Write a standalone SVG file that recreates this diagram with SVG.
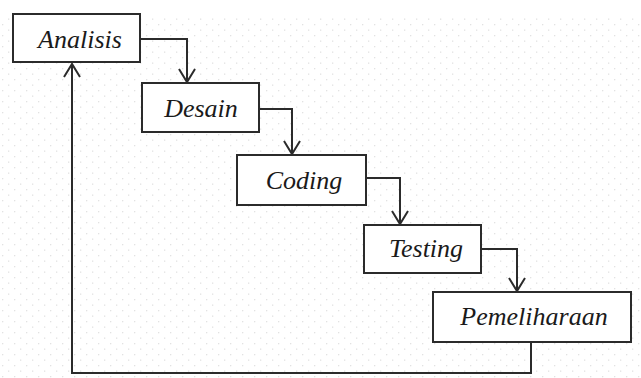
<svg xmlns="http://www.w3.org/2000/svg" width="641" height="378" viewBox="0 0 641 378">
<style>
.box{fill:#fff;stroke:#2b2b2b;stroke-width:2}
.lbl{font-family:"Liberation Serif","DejaVu Serif",serif;font-style:italic;font-size:26px;fill:#1a1a1a;text-anchor:middle}
.con{fill:none;stroke:#2b2b2b;stroke-width:2}
</style>
<defs>
<pattern id="dots" width="12" height="11" patternUnits="userSpaceOnUse">
<rect x="2" y="2" width="1.3" height="1.3" fill="#e2e2e2"/>
<rect x="8" y="7.5" width="1.3" height="1.3" fill="#e2e2e2"/>
</pattern>
</defs>
<rect width="641" height="378" fill="#fff"/>
<rect x="0" y="18" width="641" height="360" fill="url(#dots)"/>
<g id="connectors">
<path class="con" d="M140,39 H187 V82"/>
<path d="M179,69 L187,82 L195,69" class="con"/>
<path class="con" d="M259,109 H292 V154"/>
<path d="M284,141 L292,154 L300,141" class="con"/>
<path class="con" d="M366,178 H400 V224"/>
<path d="M392,211 L400,224 L408,211" class="con"/>
<path class="con" d="M481,249 H517 V291"/>
<path d="M509,278 L517,291 L525,278" class="con"/>
<path class="con" d="M531,342 V373 H72 V64"/>
<path d="M64,77 L72,64 L80,77" class="con"/>
</g>
<g id="analisis">
<rect class="box" x="13" y="14" width="127" height="48"/>
<text class="lbl" x="80" y="48">Analisis</text>
</g>
<g id="desain">
<rect class="box" x="142" y="83" width="117" height="49"/>
<text class="lbl" x="201" y="117">Desain</text>
</g>
<g id="coding">
<rect class="box" x="237" y="155" width="129" height="50"/>
<text class="lbl" x="304" y="189">Coding</text>
</g>
<g id="testing">
<rect class="box" x="364" y="225" width="117" height="48"/>
<text class="lbl" x="426" y="257">Testing</text>
</g>
<g id="pemeliharaan">
<rect class="box" x="433" y="292" width="198" height="50"/>
<text class="lbl" x="534" y="325">Pemeliharaan</text>
</g>
</svg>
